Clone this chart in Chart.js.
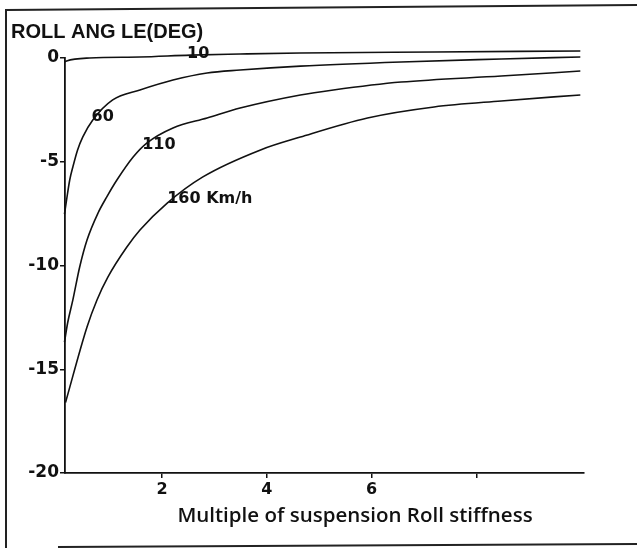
<!DOCTYPE html>
<html lang="en">
<head>
    <meta charset="UTF-8">
    <title>Roll angle</title>
    <script src="https://cdn.jsdelivr.net/npm/chart.js"></script>
    <style>
        body { margin: 0; background: #fff; }
    </style>
</head>
<body>
    <canvas id="grafico" width="637" height="548"></canvas>

<script>
    // valores (x = multiplo da rigidez, y = angulo em graus)
    var x_10 = [0.14, 0.18, 0.62, 1.58, 2.54, 3.49, 4.64, 7.19, 9.98]
    var y_10 = [-0.19, -0.14, 0, 0.05, 0.14, 0.19, 0.24, 0.29, 0.34]

    var x_60 = [0.14, 0.18, 0.24, 0.30, 0.39, 0.49, 0.68, 1.06, 1.58, 2.21, 2.86, 3.49, 4.64, 6.56, 8.47, 9.98]
    var y_60 = [-7.52, -6.84, -5.88, -5.25, -4.43, -3.80, -2.99, -2.02, -1.54, -1.06, -0.72, -0.58, -0.39, -0.19, -0.05, 0.05]

    var x_110 = [0.14, 0.20, 0.30, 0.43, 0.57, 0.78, 0.95, 1.14, 1.45, 1.71, 2.21, 2.86, 3.49, 4.64, 5.27, 6.56, 8.47, 9.98]
    var y_110 = [-13.69, -12.77, -11.66, -10.07, -8.77, -7.47, -6.68, -5.88, -4.77, -4.10, -3.37, -2.89, -2.41, -1.78, -1.54, -1.16, -0.87, -0.63]

    var x_160 = [0.16, 0.57, 0.76, 0.97, 1.33, 1.58, 2.10, 2.78, 3.88, 4.64, 5.92, 7.19, 8.47, 9.98]
    var y_160 = [-16.6, -12.96, -11.66, -10.55, -9.11, -8.29, -6.99, -5.73, -4.43, -3.81, -2.89, -2.36, -2.07, -1.78]

    var ticks_y = [0, -5, -10, -15, -20]
    var ticks_x = [2, 4, 6, 8]
    var labels_x = ['2', '4', '6', '']

    var titulo = 'ROLL ANG LE(DEG)'
    var titulo_x = 'Multiple of suspension Roll stiffness'

    // rotulos das curvas: texto e ponto (em unidades dos eixos)
    var rotulos = [
        { texto: '10', x: 2.69, y: 0.22, alinha: 'center' },
        { texto: '60', x: 0.87, y: -2.84, alinha: 'center' },
        { texto: '110', x: 1.94, y: -4.19, alinha: 'center' },
        { texto: '160 Km/h', x: 2.10, y: -6.80, alinha: 'left' }
    ]

    function pontos(xs, ys) {
        var lista = []
        for (var i = 0; i < xs.length; i++) {
            lista.push({ x: xs[i], y: ys[i] })
        }
        return lista
    }

    function serie(xs, ys) {
        return {
            data: pontos(xs, ys),
            borderColor: '#111',
            borderWidth: 1.6,
            pointRadius: 0,
            cubicInterpolationMode: 'monotone',
            clip: false
        }
    }

    var textos = {
        id: 'textos',
        afterDraw: function (chart) {
            var c = chart.ctx
            var sx = chart.scales.x
            var sy = chart.scales.y
            c.save()

            // moldura
            c.strokeStyle = '#222'
            c.lineWidth = 2
            c.beginPath()
            c.moveTo(6, 548)
            c.lineTo(6, 10)
            c.lineTo(637, 5)
            c.moveTo(58, 547)
            c.lineTo(637, 544)
            c.stroke()

            c.fillStyle = '#111'
            c.textBaseline = 'middle'
            c.font = 'bold 20px "Liberation Sans"'
            c.textAlign = 'left'
            c.fillText(titulo, 11, 32)

            c.font = 'bold 16px "DejaVu Sans"'
            rotulos.forEach(function (r) {
                c.textAlign = r.alinha
                c.fillText(r.texto, sx.getPixelForValue(r.x), sy.getPixelForValue(r.y))
            })

            c.font = '600 20.5px "Open Sans"'
            c.textAlign = 'center'
            c.fillText(titulo_x, 355, 516)
            c.restore()
        }
    }

    var config = {
        type: 'line',
        data: {
            datasets: [
                serie(x_10, y_10),
                serie(x_60, y_60),
                serie(x_110, y_110),
                serie(x_160, y_160)
            ]
        },
        options: {
            responsive: false,
            animation: false,
            layout: { padding: { left: 0, right: 53, top: 58, bottom: 0 } },
            plugins: {
                legend: { display: false },
                tooltip: { enabled: false }
            },
            scales: {
                x: {
                    type: 'linear',
                    min: 0.15,
                    max: 10.05,
                    afterBuildTicks: function (s) {
                        s.ticks = ticks_x.map(function (v) { return { value: v } })
                    },
                    afterFit: function (s) { s.height = 75 },
                    grid: { drawOnChartArea: false, drawTicks: true, tickLength: 5, color: '#111', lineWidth: 1.5 },
                    border: { color: '#111', width: 1.8 },
                    ticks: {
                        color: '#111',
                        padding: 2,
                        maxRotation: 0,
                        font: { family: 'DejaVu Sans', size: 16, weight: 'bold' },
                        callback: function (v, i) { return labels_x[i] }
                    }
                },
                y: {
                    min: -20,
                    max: 0,
                    afterBuildTicks: function (s) {
                        s.ticks = ticks_y.map(function (v) { return { value: v } })
                    },
                    afterFit: function (s) { s.width = 65 },
                    grid: { drawOnChartArea: false, drawTicks: true, tickLength: 5, color: '#111', lineWidth: 1.5 },
                    border: { color: '#111', width: 1.8 },
                    ticks: {
                        color: '#111',
                        padding: 1,
                        font: { family: 'DejaVu Sans', size: 17, weight: 'bold' }
                    }
                }
            }
        },
        plugins: [textos]
    }

    var grafico = new Chart(document.getElementById('grafico'), config)
</script>
</body>
</html>
